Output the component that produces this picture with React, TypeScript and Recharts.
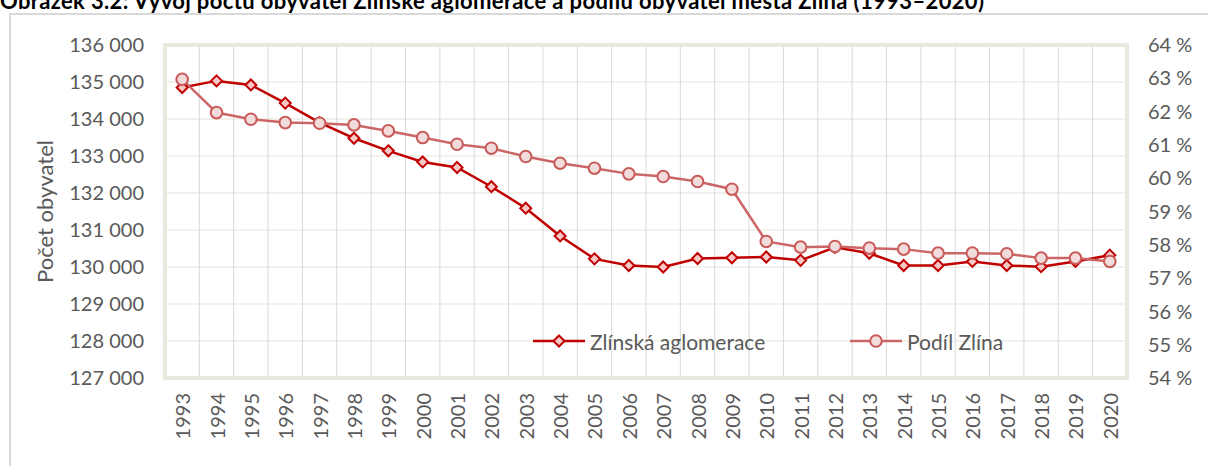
import React from 'react';
import { LineChart, Line, XAxis, YAxis, CartesianGrid, ReferenceArea, Legend } from 'recharts';

const years = [
  '1993', '1994', '1995', '1996', '1997', '1998', '1999', '2000', '2001', '2002',
  '2003', '2004', '2005', '2006', '2007', '2008', '2009', '2010', '2011', '2012',
  '2013', '2014', '2015', '2016', '2017', '2018', '2019', '2020',
];

// počet obyvatel Zlínské aglomerace
const aglomerace = [
  134850, 135030, 134920, 134430, 133900, 133480, 133140, 132840, 132690, 132170,
  131590, 130840, 130220, 130040, 130000, 130230, 130250, 130270, 130180, 130530,
  130370, 130040, 130040, 130150, 130040, 130010, 130150, 130320,
];

// podíl obyvatel města Zlína (%)
const podil = [
  62.97, 61.97, 61.77, 61.67, 61.65, 61.6, 61.42, 61.22, 61.02, 60.9,
  60.65, 60.45, 60.3, 60.13, 60.05, 59.9, 59.67, 58.1, 57.93, 57.95,
  57.9, 57.87, 57.75, 57.75, 57.73, 57.6, 57.6, 57.5,
];

const leftTicks = [127000, 128000, 129000, 130000, 131000, 132000, 133000, 134000, 135000, 136000];
const rightTicks = [54, 55, 56, 57, 58, 59, 60, 61, 62, 63, 64];

const seriesOrder = ['aglomerace', 'podil'];

const data = years.map((year, i) => ({ year, aglomerace: aglomerace[i], podil: podil[i] }));

const FONT = 'Lato, "Open Sans", sans-serif';
const GREY = '#595959';
const DARK_RED = '#c00000';
const SOFT_RED = '#cc6666';

const fmtThousands = (v: number) => String(v).replace(/\B(?=(\d{3})+(?!\d))/g, ' ');
const fmtPct = (v: number) => `${v} %`;

const Diamond = (props: any) => {
  const { cx, cy } = props;
  if (cx == null || cy == null) return null;
  const r = 5.5;
  return (
    <polygon
      points={`${cx},${cy - r} ${cx + r},${cy} ${cx},${cy + r} ${cx - r},${cy}`}
      fill="#f8c8c8"
      stroke={DARK_RED}
      strokeWidth={2}
    />
  );
};

const Circle = (props: any) => {
  const { cx, cy } = props;
  if (cx == null || cy == null) return null;
  return <circle cx={cx} cy={cy} r={5.8} fill="#f2dcdb" stroke="#c85a5a" strokeWidth={2} />;
};

const YearTick = (props: any) => {
  const { x, y, payload } = props;
  return (
    <text
      x={x}
      y={y}
      transform={`rotate(-90, ${x}, ${y})`}
      textAnchor="end"
      dominantBaseline="central"
      fill={GREY}
      fontSize={20}
      fontFamily={FONT}
    >
      {payload.value}
    </text>
  );
};

const AxisTitle = (props: any) => {
  const vb = props.viewBox || { x: 0, y: 0, height: 0 };
  const cx = vb.x + 9;
  const cy = vb.y + vb.height / 2;
  return (
    <text
      x={cx}
      y={cy}
      transform={`rotate(-90, ${cx}, ${cy})`}
      textAnchor="middle"
      dominantBaseline="central"
      fill={GREY}
      fontSize={22}
      fontFamily={FONT}
    >
      Počet obyvatel
    </text>
  );
};

const LegendContent = (props: any) => {
  const items = [...(props.payload || [])].sort(
    (a: any, b: any) => seriesOrder.indexOf(a.dataKey) - seriesOrder.indexOf(b.dataKey)
  );
  return (
    <div style={{ position: 'relative', height: 26, fontFamily: FONT, fontSize: 21, color: GREY }}>
      {items.map((item: any, i: number) => (
        <div
          key={item.value}
          style={{ position: 'absolute', left: i === 0 ? 0 : 317, top: 0, display: 'flex', alignItems: 'center', whiteSpace: 'nowrap' }}
        >
          <svg width={54} height={26} style={{ marginRight: 4 }}>
            <line x1={1} y1={13} x2={53} y2={13} stroke={item.color} strokeWidth={2.5} />
            {item.dataKey === 'aglomerace' ? <Diamond cx={27} cy={13} /> : <Circle cx={27} cy={13} />}
          </svg>
          <span>{item.value}</span>
        </div>
      ))}
    </div>
  );
};

export default function App() {
  return (
    <div style={{ position: 'absolute', left: 0, top: 0, width: 1208, height: 466, overflow: 'hidden', background: '#fff' }}>
      <div
        style={{
          position: 'absolute', left: 0, top: -12, fontFamily: FONT, fontWeight: 700,
          fontSize: 22, lineHeight: '26px', letterSpacing: 0.35, color: '#000', whiteSpace: 'nowrap',
        }}
      >
        Obrázek 3.2: Vývoj počtu obyvatel Zlínské aglomerace a podílu obyvatel města Zlína (1993–2020)
      </div>
      <div
        style={{
          position: 'absolute', left: 9, top: 13, width: 1230, height: 480,
          borderLeft: '2px solid #d9d9d9', borderTop: '2px solid #d9d9d9', boxSizing: 'border-box',
        }}
      />
      <div style={{ position: 'absolute', left: 0, top: 0 }}>
        <LineChart width={1208} height={466} data={data} margin={{ top: 45, right: 0, bottom: 0, left: 35 }}>
          <CartesianGrid yAxisId="left" vertical={false} stroke="#efede4" strokeWidth={1.5} />
          <CartesianGrid
            yAxisId="left"
            horizontal={false}
            stroke="#d9d9d9"
            verticalCoordinatesGenerator={({ offset }: any) =>
              years.slice(1).map((_, i) => offset.left + ((i + 1) * offset.width) / years.length)
            }
          />
          <ReferenceArea yAxisId="left" y1={127000} y2={136000} fill="none" stroke="#ebe9df" strokeWidth={4} />
          <XAxis
            dataKey="year"
            scale="band"
            interval={0}
            height={88}
            axisLine={false}
            tickLine={false}
            tickSize={0}
            tickMargin={15}
            tick={<YearTick />}
          />
          <YAxis
            yAxisId="left"
            orientation="left"
            width={130}
            domain={[127000, 136000]}
            ticks={leftTicks}
            axisLine={false}
            tickLine={false}
            tickSize={0}
            tickMargin={21}
            tickFormatter={fmtThousands}
            tick={{ fill: GREY, fontSize: 20, fontFamily: FONT }}
            label={{ content: <AxisTitle /> }}
          />
          <YAxis
            yAxisId="right"
            orientation="right"
            width={81}
            domain={[54, 64]}
            ticks={rightTicks}
            axisLine={false}
            tickLine={false}
            tickSize={0}
            tickMargin={21}
            tickFormatter={fmtPct}
            tick={{ fill: GREY, fontSize: 20, fontFamily: FONT, textAnchor: 'start' }}
          />
          <Legend
            layout="horizontal"
            verticalAlign="middle"
            align="center"
            content={<LegendContent />}
            wrapperStyle={{ position: 'absolute', left: 532, top: 328, width: 500 }}
          />
          <Line
            yAxisId="left"
            type="linear"
            dataKey="aglomerace"
            name="Zlínská aglomerace"
            stroke={DARK_RED}
            strokeWidth={2.5}
            dot={<Diamond />}
            activeDot={false}
            isAnimationActive={false}
          />
          <Line
            yAxisId="right"
            type="linear"
            dataKey="podil"
            name="Podíl Zlína"
            stroke={SOFT_RED}
            strokeWidth={2.5}
            dot={<Circle />}
            activeDot={false}
            isAnimationActive={false}
          />
        </LineChart>
      </div>
    </div>
  );
}
